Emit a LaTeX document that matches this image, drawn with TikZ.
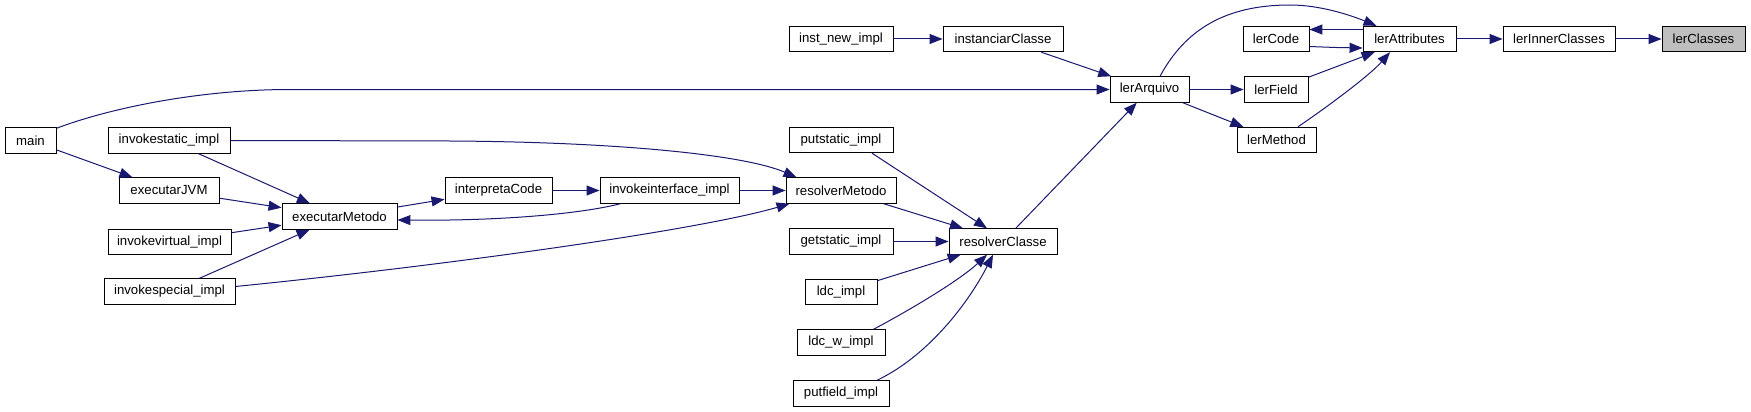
\documentclass[tikz,border=0pt]{standalone}
\usepackage{fontspec}
\setmainfont{Liberation Sans}
\usetikzlibrary{arrows.meta,calc}
\definecolor{edgec}{HTML}{191970}
\definecolor{hl}{HTML}{BFBFBF}
\begin{document}
\begin{tikzpicture}[x=1pt,y=-1pt,
  box/.style={draw=black, line width=0.9pt, minimum height=25.5pt, inner sep=0pt, fill=white, font=\fontsize{13.2}{15}\selectfont},
  edge/.style={draw=edgec, line width=1pt, -{Triangle[length=13pt,width=10pt]}}]
\fill[white] (0,0) rectangle (1751,412);
\useasboundingbox (0,0) rectangle (1751,412);
\node[box,minimum width=51pt] (main) at (30.5,140.5) {main};
\node[box,minimum width=122pt] (invstatic) at (169,140.5) {invokestatic\_impl};
\node[box,minimum width=100pt] (execJVM) at (169,190.5) {executarJVM};
\node[box,minimum width=123pt] (invvirtual) at (169.5,242) {invokevirtual\_impl};
\node[box,minimum width=131pt] (invspecial) at (169.5,291.5) {invokespecial\_impl};
\node[box,minimum width=115pt] (execMet) at (339.5,216.5) {executarMetodo};
\node[box,minimum width=107pt] (interp) at (498.5,190.5) {interpretaCode};
\node[box,minimum width=139pt] (invinterface) at (669.5,190.5) {invokeinterface\_impl};
\node[box,minimum width=110pt] (resMet) at (841,190.5) {resolverMetodo};
\node[box,minimum width=104pt] (instnew) at (841,39) {inst\_new\_impl};
\node[box,minimum width=104pt] (putstatic) at (841,140) {putstatic\_impl};
\node[box,minimum width=104pt] (getstatic) at (841,241.5) {getstatic\_impl};
\node[box,minimum width=72pt] (ldc) at (841,292) {ldc\_impl};
\node[box,minimum width=88pt] (ldcw) at (841,342.5) {ldc\_w\_impl};
\node[box,minimum width=96pt] (putfield) at (841,393.5) {putfield\_impl};
\node[box,minimum width=120pt] (instClasse) at (1003,39) {instanciarClasse};
\node[box,minimum width=108pt] (resClasse) at (1003,241.5) {resolverClasse};
\node[box,minimum width=79pt] (lerArq) at (1149.5,89.5) {lerArquivo};
\node[box,minimum width=66pt] (lerCode) at (1276,39) {lerCode};
\node[box,minimum width=64pt] (lerField) at (1276,89.5) {lerField};
\node[box,minimum width=79pt] (lerMethod) at (1276.5,140) {lerMethod};
\node[box,minimum width=93pt] (lerAttr) at (1409.5,39) {lerAttributes};
\node[box,minimum width=112pt] (lerInner) at (1559,39) {lerInnerClasses};
\node[box,minimum width=83pt,fill=hl] (lerClasses) at (1703.5,39) {lerClasses};

\draw[edge] (instnew) -- (instClasse);
\draw[edge] (instClasse) -- (lerArq);
\draw[edge] ($(main.north east)+(0,1)$) .. controls (110,108) and (200,89.5) .. (290,89.5) -- (lerArq.west);
\draw[edge] (main) -- (execJVM);
\draw[edge] (invstatic) -- (execMet);
\draw[edge] (execJVM) -- (execMet);
\draw[edge] (invvirtual) -- (execMet);
\draw[edge] (invspecial) -- (execMet);
\draw[edge] (execMet) -- (interp);
\draw[edge] (interp) -- (invinterface);
\draw[edge] ($(invinterface.south west)+(21,0)$) .. controls (580,214) and (500,221) .. ($(execMet.east)+(0,3.5)$);
\draw[edge] (invinterface) -- (resMet);
\draw[edge] (invstatic.east) -- (450,141) .. controls (620,142) and (745,155) .. ($(resMet.north west)+(11,0)$);
\draw[edge] ($(invspecial.east)+(0,-5)$) .. controls (450,265) and (700,230) .. ($(resMet.south west)+(4,0)$);
\draw[edge] ($(putstatic.south)+(31,0)$) -- ($(resClasse.north)+(-16,0)$);
\draw[edge] (resMet) -- ($(resClasse.north)+(-40,0)$);
\draw[edge] (getstatic) -- (resClasse);
\draw[edge] (ldc) -- (resClasse);
\draw[edge] ($(ldcw.north east)+(-12,0)$) .. controls (910,310) and (960,280) .. ($(resClasse.south)+(-16,0)$);
\draw[edge] ($(putfield.north)+(36,0)$) .. controls (930,355) and (970,300) .. ($(resClasse.south)+(-10,0)$);
\draw[edge] (resClasse) -- (lerArq);
\draw[edge] (lerArq) -- (lerField);
\draw[edge] (lerArq) -- (lerMethod);
\draw[edge] ($(lerArq.north)+(10.5,0)$) .. controls (1185,30) and (1225,5) .. (1290,5) .. controls (1320,5) and (1350,15) .. ($(lerAttr.north west)+(14,0)$);
\draw[edge] ($(lerAttr.west)+(0,-9.5)$) -- ($(lerCode.east)+(0,-9.5)$);
\draw[edge] ($(lerCode.east)+(0,7.5)$) .. controls (1335,47.5) .. ($(lerAttr.west)+(0,9)$);
\draw[edge] (lerField) -- (lerAttr);
\draw[edge] ($(lerMethod.north)+(21.5,0)$) .. controls (1330,105) and (1370,75) .. ($(lerAttr.south)+(-19.5,0)$);
\draw[edge] (lerAttr) -- (lerInner);
\draw[edge] (lerInner) -- (lerClasses);
\end{tikzpicture}
\end{document}
